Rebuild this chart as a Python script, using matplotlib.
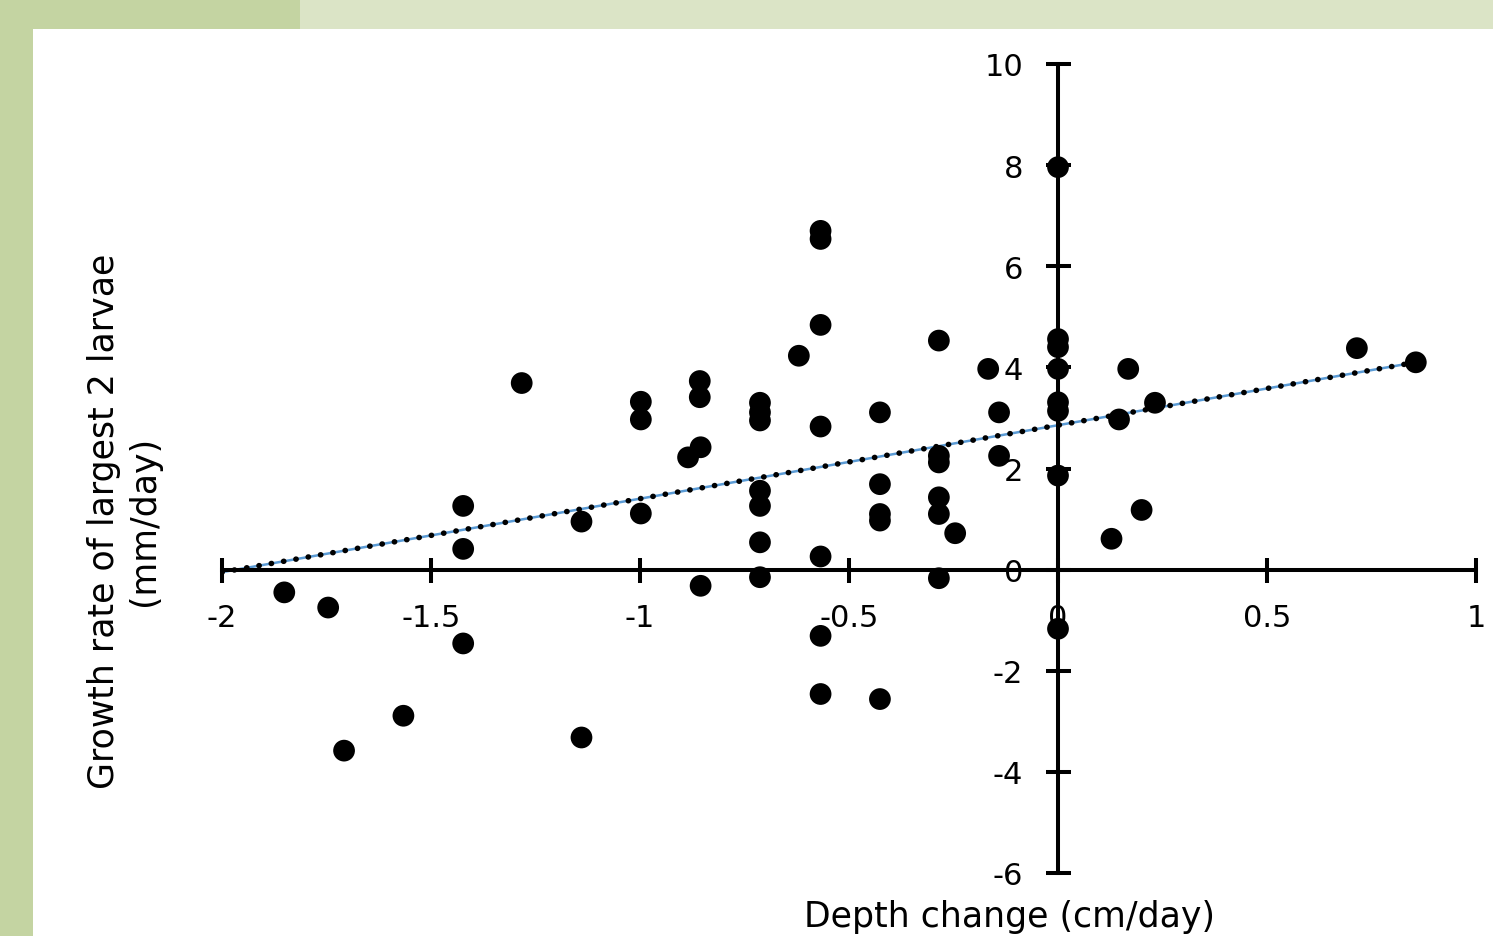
import numpy as np
import matplotlib
matplotlib.use("Agg")
import matplotlib.pyplot as plt
from matplotlib.patches import Rectangle

plt.rcParams['font.family'] = ['DejaVu Sans']

### data
depth_change = [-1.851, -1.746, -1.708, -1.566, -1.423, -1.423, -1.423, -1.283,
                -1.140, -1.140, -0.998, -0.998, -0.998,
                -0.857, -0.857, -0.885, -0.855, -0.855,
                -0.713, -0.713, -0.713, -0.713, -0.713, -0.713, -0.713,
                -0.620, -0.568, -0.568, -0.568, -0.568, -0.568, -0.568, -0.568,
                -0.426, -0.426, -0.426, -0.426, -0.426,
                -0.285, -0.285, -0.285, -0.285, -0.285, -0.285, -0.246,
                -0.167, -0.141, -0.141,
                0.0, 0.0, 0.0, 0.0, 0.0, 0.0, 0.0, 0.0,
                0.128, 0.146, 0.168, 0.200, 0.232, 0.715, 0.856]
growth_rate = [-0.45, -0.75, -3.58, -2.89, 1.26, 0.41, -1.46, 3.69,
               0.95, -3.32, 3.32, 2.97, 1.11,
               3.73, 3.41, 2.22, 2.42, -0.32,
               3.30, 3.11, 2.95, 1.56, 1.26, 0.54, -0.15,
               4.23, 6.70, 6.54, 4.84, 2.83, 0.26, -1.31, -2.46,
               3.11, 1.69, 1.10, 0.97, -2.56,
               4.53, 2.25, 2.12, 1.43, 1.10, -0.17, 0.72,
               3.97, 3.11, 2.25,
               7.96, 4.56, 4.40, 3.97, 3.31, 3.14, 1.86, -1.17,
               0.61, 2.97, 3.97, 1.18, 3.30, 4.38, 4.10]

### trend line end points as drawn in the picture
trend_x = [-2.0, 0.856]
trend_y = [-0.05, 4.10]

x_ticks = [-2, -1.5, -1, -0.5, 0, 0.5, 1]
x_ticklabels = ["-2", "-1.5", "-1", "-0.5", "0", "0.5", "1"]
y_ticks = [-6, -4, -2, 0, 2, 4, 6, 8, 10]
y_ticklabels = ["-6", "-4", "-2", "0", "2", "4", "6", "8", "10"]

W, H = 1493, 937
fig = plt.figure(figsize=(W / 100, H / 100), dpi=100)
fig.patch.set_facecolor("#c4d4a2")

### background strips and the white slide panel
fig.patches.append(Rectangle((300 / W, 1 - 30 / H), 1, 30 / H, transform=fig.transFigure,
                             facecolor="#dbe4c6", edgecolor="none", zorder=-2))
fig.patches.append(Rectangle((33 / W, 0), 1, 1 - 30 / H, transform=fig.transFigure,
                             facecolor="white", edgecolor="none", zorder=-1))

ax = fig.add_axes([222 / W, (H - 874) / H, 1254 / W, 809 / H])
ax.set_facecolor("none")

### trend line: light blue line under black round dots
ax.plot(trend_x, trend_y, color="#5b9bd5", lw=1.8, zorder=2)
ax.plot(trend_x, trend_y, color="black", lw=4.0, linestyle=(0, (0.05, 2.2)),
        dash_capstyle="round", zorder=2.1)

ax.scatter(depth_change, growth_rate, s=245, color="black", edgecolor="none",
           zorder=3, clip_on=False)

ax.set_xlim(-2, 1)
ax.set_ylim(-6, 10)

for side in ["top", "right"]:
    ax.spines[side].set_visible(False)
ax.spines["left"].set_position(("data", 0))
ax.spines["bottom"].set_position(("data", 0))
ax.spines["left"].set_linewidth(2.9)
ax.spines["bottom"].set_linewidth(2.9)

ax.set_xticks(x_ticks)
ax.set_xticklabels(x_ticklabels)
ax.set_yticks(y_ticks)
ax.set_yticklabels(y_ticklabels)
ax.tick_params(axis="both", direction="inout", length=18, width=2.9,
               labelsize=22, colors="black")
ax.tick_params(axis="x", pad=15)
ax.tick_params(axis="y", pad=16)

fig.text(1010 / W, 1 - 917 / H, "Depth change (cm/day)", ha="center", va="center",
         fontsize=25)
fig.text(124 / W, 1 - 521 / H, "Growth rate of largest 2 larvae\n(mm/day)",
         ha="center", va="center", rotation=90, fontsize=25, linespacing=1.25)

fig.savefig("out.png", dpi=100, facecolor=fig.get_facecolor())
